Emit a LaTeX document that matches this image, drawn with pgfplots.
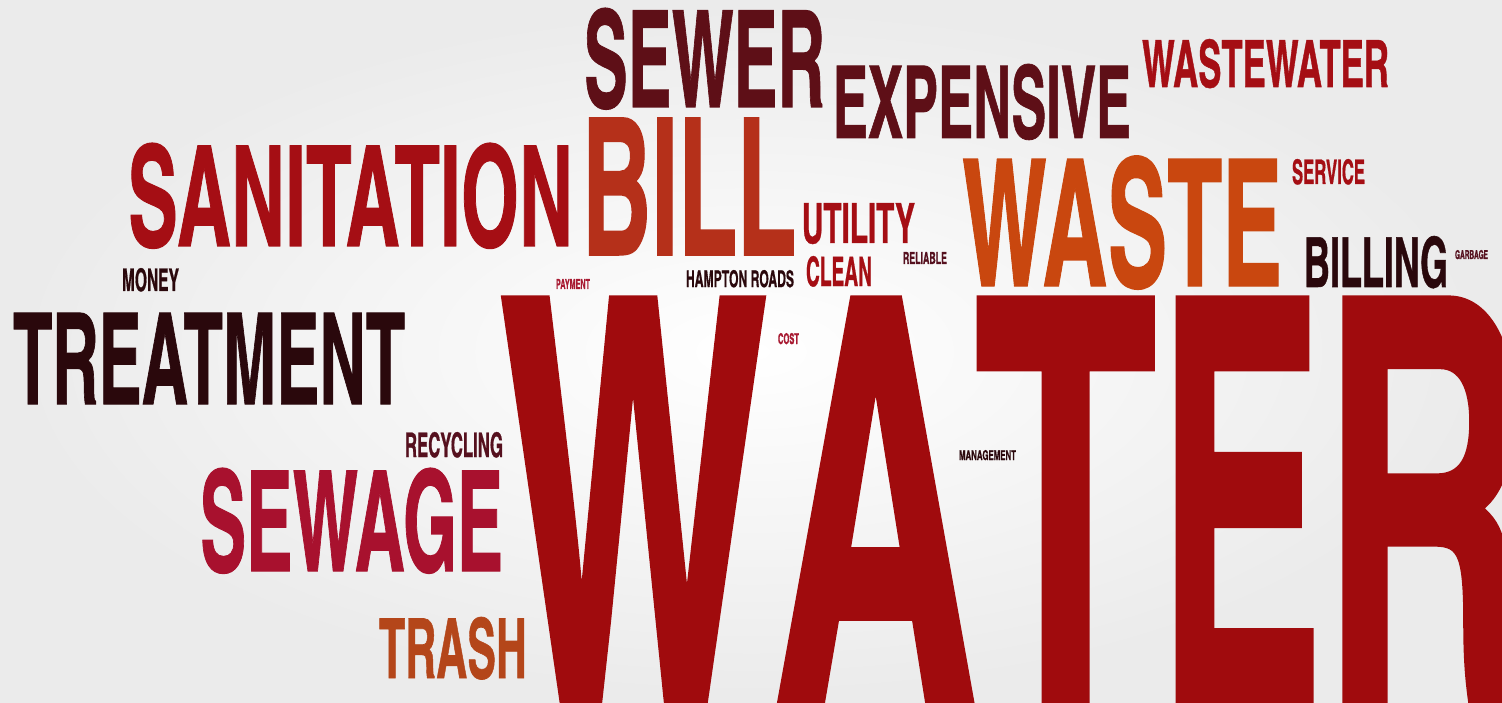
\documentclass[border=0pt]{standalone}
\usepackage{pgfplots}
\pgfplotsset{compat=1.18}
\usepackage{graphicx}
\usepackage{fontspec}
\newfontfamily\wc{texgyreheroscn-bold.otf}[FakeBold=0.8]
\definecolor{cwater}{HTML}{A00B0D}
\definecolor{cmaroon}{HTML}{5E0F17}
\definecolor{cblack}{HTML}{2A080C}
\definecolor{cred}{HTML}{A50E14}
\definecolor{ccrimson}{HTML}{A8112E}
\definecolor{cbill}{HTML}{B5301A}
\definecolor{cwaste}{HTML}{C9470F}
\definecolor{ctrash}{HTML}{B4461A}
\definecolor{cplum}{HTML}{55101E}
\definecolor{cpink}{HTML}{A81A32}
% word: x (left), y (baseline), width, cap height, colour, text
\newcommand\word[6]{%
  \addplot[only marks, mark=none,
    nodes near coords={\textcolor{#5}{\resizebox{#3bp}{#4bp}{\wc #6}}},
    nodes near coords align={anchor=base west},
    nodes near coords style={anchor=base west, inner sep=0pt, outer sep=0pt},
  ] coordinates {(#1,#2)};}
\begin{document}
\begin{tikzpicture}
\begin{axis}[
  scale only axis, width=1502bp, height=703bp,
  xmin=0, xmax=1502, ymin=0, ymax=703, y dir=reverse,
  axis line style={draw=none}, xtick=\empty, ytick=\empty,
  axis background/.style={shade, inner color=white, outer color=black!8},
]
% WATER, letter by letter
\word{498}{702}{270}{403}{cwater}{W}
\word{773}{702}{205}{403}{cwater}{A}
\word{974}{702}{183}{403}{cwater}{T}
\word{1158}{702}{166}{403}{cwater}{E}
\word{1322}{702}{208}{403}{cwater}{R}
\word{584}{107}{241}{99}{cmaroon}{SEWER}
\word{833}{138}{298}{74}{cmaroon}{EXPENSIVE}
\word{1142}{87}{247}{48}{cred}{WASTEWATER}
\word{128}{246}{445}{103}{cred}{SANITATION}
\word{582}{255}{214}{137}{cbill}{BILL}
\word{802}{243}{113}{40}{cred}{UTILITY}
\word{962}{286}{320}{130}{cwaste}{WASTE}
\word{1292}{184}{73}{25}{cred}{SERVICE}
\word{1304}{287}{144}{51}{cblack}{BILLING}
\word{1455}{259}{33}{9}{cplum}{GARBAGE}
\word{122}{291}{57}{23}{cblack}{MONEY}
\word{556}{289}{34}{10}{cpink}{PAYMENT}
\word{686}{287}{108}{17}{cblack}{HAMPTON ROADS}
\word{806}{286}{66}{30}{cred}{CLEAN}
\word{903}{264}{44}{12}{cplum}{RELIABLE}
\word{13}{404}{392}{91}{cblack}{TREATMENT}
\word{778}{344}{21}{11}{cpink}{COST}
\word{959}{460}{57}{10}{cblack}{MANAGEMENT}
\word{405}{457}{98}{25}{cplum}{RECYCLING}
\word{200}{571}{303}{103}{ccrimson}{SEWAGE}
\word{379}{678}{148}{61}{ctrash}{TRASH}
\end{axis}
\pgfresetboundingbox
\path (current axis.south west) rectangle (current axis.north east);
\end{tikzpicture}
\end{document}
